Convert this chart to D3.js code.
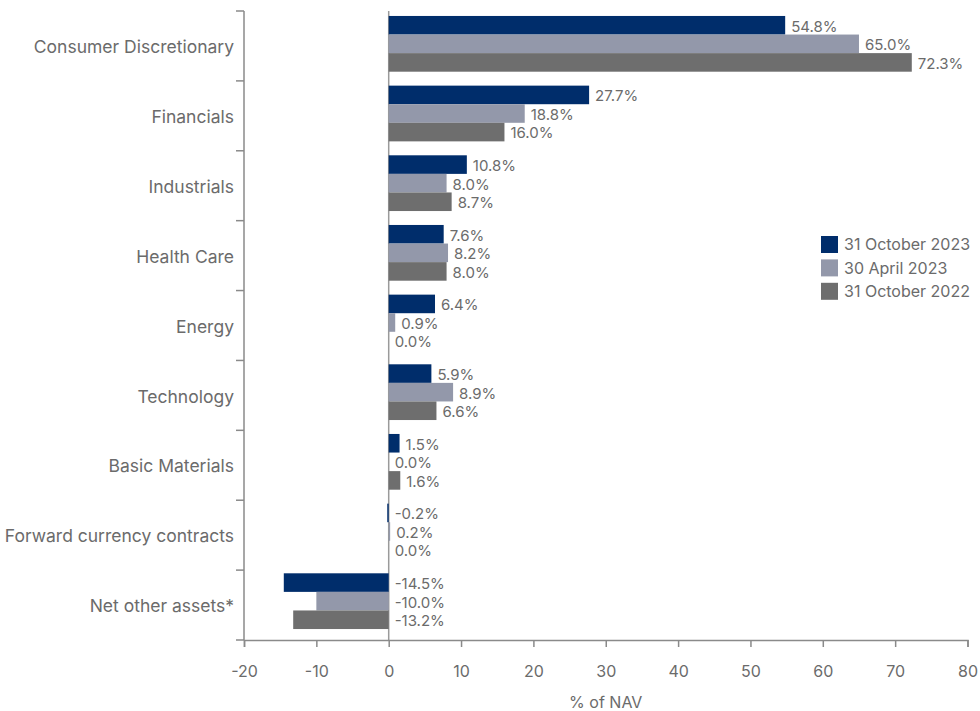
<!DOCTYPE html>
<html>
<head>
<meta charset="utf-8">
<script src="https://cdn.jsdelivr.net/npm/d3@7"></script>
<style>
  body { margin: 0; background: #fff; }
  text { font-family: Inter, Roboto, "Noto Sans", sans-serif; fill: #6b6b6b; }
</style>
</head>
<body>
<div id="chart"></div>
<script>
var categories = ["Consumer Discretionary", "Financials", "Industrials", "Health Care", "Energy",
    "Technology", "Basic Materials", "Forward currency contracts", "Net other assets*"];
var seriesNames = ["31 October 2023", "30 April 2023", "31 October 2022"];
var oct2023 = [54.8, 27.7, 10.8, 7.6, 6.4, 5.9, 1.5, -0.2, -14.5];
var apr2023 = [65.0, 18.8, 8.0, 8.2, 0.9, 8.9, 0.0, 0.2, -10.0];
var oct2022 = [72.3, 16.0, 8.7, 8.0, 0.0, 6.6, 1.6, 0.0, -13.2];
var xTicks = [-20, -10, 0, 10, 20, 30, 40, 50, 60, 70, 80];
var colors = ["#002d6b", "#9398aa", "#6e6e6e"];

function init() {
    var w = 980;
    var h = 711;
    var left = 244, right = 967.5, top = 11, bottom = 640;
    var series = [oct2023, apr2023, oct2022];

    var svg = d3.select("#chart")
        .append("svg")
        .attr("width", w)
        .attr("height", h);

    var xScale = d3.scaleLinear().domain([-20, 80]).range([left, right]);
    // bars sit slightly higher than the category bands
    var yScale = d3.scaleBand().domain(categories).range([9, 636]).paddingInner(0.2).paddingOuter(0.1);
    var inner = d3.scaleBand().domain([0, 1, 2]).range([0, yScale.bandwidth()]);
    var step = (bottom - top) / categories.length;

    // category ticks between groups
    var yAxis = svg.append("g");
    yAxis.append("line")
        .attr("x1", left).attr("x2", left)
        .attr("y1", top).attr("y2", bottom)
        .attr("stroke", "#8a8a8a").attr("stroke-width", 1.5);
    yAxis.selectAll(".tk")
        .data(d3.range(categories.length + 1))
        .enter().append("line")
        .attr("x1", left - 8).attr("x2", left)
        .attr("y1", function (i) { return top + i * step; })
        .attr("y2", function (i) { return top + i * step; })
        .attr("stroke", "#8a8a8a").attr("stroke-width", 1.5);
    yAxis.selectAll(".lbl")
        .data(categories)
        .enter().append("text")
        .attr("x", 234)
        .attr("y", function (d, i) { return top + (i + 0.5) * step + 1; })
        .attr("dy", "0.35em")
        .attr("text-anchor", "end")
        .style("font-size", "17.5px")
        .text(function (d) { return d; });

    // zero line
    svg.append("line")
        .attr("x1", xScale(0)).attr("x2", xScale(0))
        .attr("y1", top).attr("y2", bottom)
        .attr("stroke", "#9a9a9a").attr("stroke-width", 1.5);

    // bars
    series.forEach(function (vals, s) {
        var g = svg.append("g");
        g.selectAll("rect")
            .data(vals)
            .enter().append("rect")
            .attr("x", function (d) { return xScale(Math.min(0, d)); })
            .attr("y", function (d, i) { return yScale(categories[i]) + inner(s); })
            .attr("width", function (d) { return Math.abs(xScale(d) - xScale(0)); })
            .attr("height", inner.bandwidth())
            .attr("fill", colors[s]);
        g.selectAll("text")
            .data(vals)
            .enter().append("text")
            .attr("x", function (d) { return xScale(Math.max(0, d)) + 6; })
            .attr("y", function (d, i) { return yScale(categories[i]) + inner(s) + inner.bandwidth() / 2 + 1; })
            .attr("dy", "0.36em")
            .style("font-size", "15px")
            .text(function (d) { return d.toFixed(1) + "%"; });
    });

    // x axis
    var xAxis = d3.axisBottom(xScale).tickValues(xTicks).tickSize(7).tickPadding(19)
        .tickFormat(function (d) { return String(d); });
    var gx = svg.append("g")
        .attr("transform", "translate(0," + bottom + ")")
        .call(xAxis);
    gx.select(".domain").attr("stroke", "#8a8a8a").attr("stroke-width", 1.5);
    gx.selectAll(".tick line").attr("stroke", "#8a8a8a").attr("stroke-width", 1.5);
    gx.selectAll(".tick text")
        .style("font-size", "16px")
        .style("font-family", "Inter, Roboto, sans-serif")
        .attr("fill", "#6b6b6b");

    svg.append("text")
        .attr("x", xScale(30))
        .attr("y", 708)
        .attr("text-anchor", "middle")
        .style("font-size", "16px")
        .text("% of NAV");

    // legend
    var legend = svg.append("g").attr("transform", "translate(821,236)");
    seriesNames.forEach(function (name, i) {
        legend.append("rect")
            .attr("x", 0).attr("y", i * 23.4)
            .attr("width", 17).attr("height", 17)
            .attr("fill", colors[i]);
        legend.append("text")
            .attr("x", 23).attr("y", i * 23.4 + 8.5)
            .attr("dy", "0.36em")
            .style("font-size", "16px")
            .text(name);
    });
}

window.onload = init;
</script>
</body>
</html>
